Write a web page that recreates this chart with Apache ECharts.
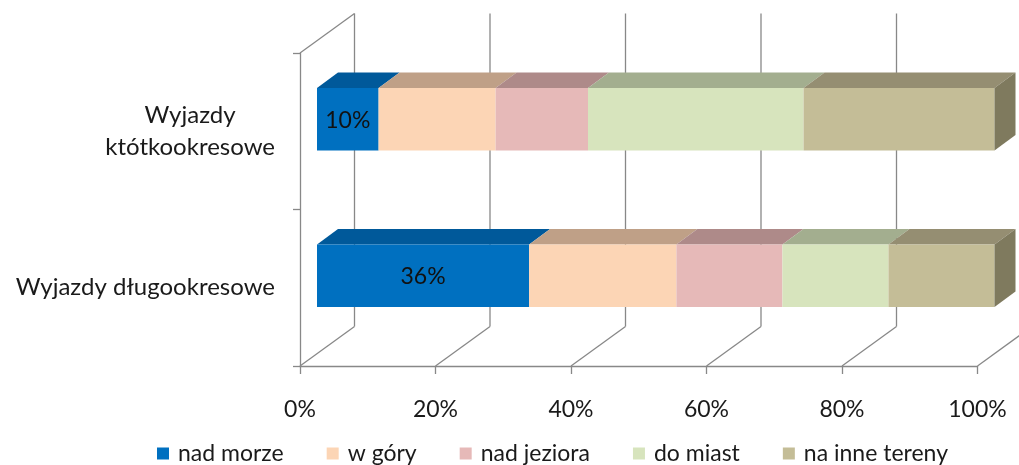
<!DOCTYPE html>
<html>
<head>
<meta charset="utf-8">
<script src="https://cdn.jsdelivr.net/npm/echarts@6/dist/echarts.min.js"></script>
<style>
  html, body { margin: 0; padding: 0; background: #ffffff; }
  #chart { width: 1019px; height: 465px; }
</style>
</head>
<body>
<div id="chart"></div>
<script>
// Trip categories (top to bottom) and destination shares in percent
const categories = ['Wyjazdy\nktótkookresowe', 'Wyjazdy długookresowe'];
const seriesNames = ['nad morze', 'w góry', 'nad jeziora', 'do miast', 'na inne tereny'];
const nadMorze = [10, 36];
const wGory = [19, 25];
const nadJeziora = [15, 18];
const doMiast = [35, 18];
const naInneTereny = [31, 18];
const xTicks = [0, 20, 40, 60, 80, 100];
const tickLabels = ['0%', '20%', '40%', '60%', '80%', '100%'];

// Face colours for each destination: front, top, right side
const faceColors = [
  { front: '#0070C0', top: '#00599A', side: '#004A80' },
  { front: '#FCD5B5', top: '#BFA087', side: '#A98C75' },
  { front: '#E6B9B8', top: '#AE8A89', side: '#977776' },
  { front: '#D7E4BD', top: '#A3AE8F', side: '#8E977C' },
  { front: '#C4BD97', top: '#958E72', side: '#7F7A5E' }
];

const FONT = 'Lato';
const GRID_COLOR = '#888888';
// Perspective offset from the front plane to the back wall
const WALL = { dx: 54.5, dy: -39.5 };
// Bar depth and its position between the front plane and the back wall
const BAR_DEPTH = { dx: 21, dy: -15.5 };
const BAR_SHIFT = { dx: 17, dy: -12 };
const BAR_RATIO = 0.4;

const rows = [nadMorze, wGory, nadJeziora, doMiast, naInneTereny];
const totals = categories.map((_, i) => rows.reduce((s, r) => s + r[i], 0));

// Cumulative 100% stacking: each item holds [start, end, categoryIndex, value]
const stacked = [];
const running = categories.map(() => 0);
rows.forEach((row) => {
  stacked.push(row.map((v, i) => {
    const share = v / totals[i] * 100;
    const item = [running[i], running[i] + share, i, v];
    running[i] += share;
    return item;
  }));
});

function makeBarRenderer(sIdx, showLabel) {
  const c = faceColors[sIdx];
  const isLast = sIdx === rows.length - 1;
  return function (params, api) {
    const start = api.value(0), end = api.value(1), ci = api.value(2);
    const p0 = api.coord([start, ci]);
    const p1 = api.coord([end, ci]);
    const h = api.size([0, 1])[1] * BAR_RATIO;
    const xL = p0[0] + BAR_SHIFT.dx, xR = p1[0] + BAR_SHIFT.dx;
    const yT = p0[1] + BAR_SHIFT.dy - h / 2, yB = yT + h;
    const dx = BAR_DEPTH.dx, dy = BAR_DEPTH.dy;
    const children = [
      { type: 'polygon', shape: { points: [[xL, yT], [xR, yT], [xR + dx, yT + dy], [xL + dx, yT + dy]] },
        style: { fill: c.top } },
      { type: 'rect', shape: { x: xL, y: yT, width: xR - xL, height: h }, style: { fill: c.front } }
    ];
    if (isLast) {
      children.push({ type: 'polygon', shape: { points: [[xR, yT], [xR + dx, yT + dy], [xR + dx, yB + dy], [xR, yB]] },
        style: { fill: c.side } });
    }
    if (showLabel) {
      children.push({ type: 'text', style: {
        text: api.value(3) + '%', x: (xL + xR) / 2, y: (yT + yB) / 2 + 1,
        align: 'center', verticalAlign: 'middle', fill: '#111111',
        font: '23px ' + FONT } });
    }
    return { type: 'group', children: children };
  };
}

// Back wall verticals, floor diagonals and the left wall top edge
function renderWalls(params, api) {
  const cs = params.coordSys;
  const v = api.value(0);
  const px = api.coord([v, 0])[0];
  const top = cs.y, bottom = cs.y + cs.height;
  const ls = { stroke: GRID_COLOR, lineWidth: 1.3, fill: null };
  const children = [
    { type: 'line', shape: { x1: px + WALL.dx, y1: top + WALL.dy, x2: px + WALL.dx, y2: bottom + WALL.dy }, style: ls },
    { type: 'line', shape: { x1: px, y1: bottom, x2: px + WALL.dx, y2: bottom + WALL.dy }, style: ls }
  ];
  if (v === xTicks[0]) {
    children.push({ type: 'line', shape: { x1: px, y1: top, x2: px + WALL.dx, y2: top + WALL.dy }, style: ls });
  }
  return { type: 'group', children: children };
}

// Centre the lines of a wrapped category label inside a right-aligned block
const CAT_SIZE = 24;
const measureCtx = document.createElement('canvas').getContext('2d');
measureCtx.font = CAT_SIZE + 'px ' + FONT;
let wrapWidth = 0;
categories.forEach((c) => {
  const lines = c.split('\n');
  if (lines.length > 1) lines.forEach((l) => { wrapWidth = Math.max(wrapWidth, measureCtx.measureText(l).width); });
});

const series = [{
  type: 'custom',
  name: '_walls',
  silent: true,
  z: 1,
  renderItem: renderWalls,
  encode: { x: 0 },
  data: xTicks.map((v) => [v]),
  animation: false
}];
rows.forEach((row, sIdx) => {
  series.push({
    type: 'custom',
    name: seriesNames[sIdx],
    z: 2 + sIdx,
    itemStyle: { color: faceColors[sIdx].front },
    renderItem: makeBarRenderer(sIdx, sIdx === 0),
    encode: { x: [0, 1], y: 2 },
    data: stacked[sIdx],
    animation: false
  });
});

const chart = echarts.init(document.getElementById('chart'), null, { renderer: 'canvas' });
chart.setOption({
  backgroundColor: '#ffffff',
  animation: false,
  grid: { left: 300, right: 41.5, top: 53, bottom: 99, outerBoundsMode: 'none' },
  xAxis: {
    type: 'value', min: 0, max: 100, interval: 20,
    axisLine: { show: true, lineStyle: { color: GRID_COLOR, width: 1.3 } },
    axisTick: { show: true, length: 8, lineStyle: { color: GRID_COLOR, width: 1.3 } },
    splitLine: { show: false },
    axisLabel: {
      margin: 32, color: '#1a1a1a', fontFamily: FONT, fontSize: 23,
      formatter: (v) => tickLabels[xTicks.indexOf(v)]
    }
  },
  yAxis: {
    type: 'category', data: categories, inverse: true,
    axisLine: { show: true, lineStyle: { color: GRID_COLOR, width: 1.3 } },
    axisTick: { show: true, length: 7, lineStyle: { color: GRID_COLOR, width: 1.3 } },
    splitLine: { show: false },
    axisLabel: {
      margin: 25, color: '#1a1a1a', fontFamily: FONT, fontSize: CAT_SIZE, lineHeight: 32,
      formatter: (v) => {
        const lines = v.split('\n');
        return lines.length > 1 ? lines.map((l) => '{c|' + l + '}').join('\n') : v;
      },
      rich: { c: { width: wrapWidth, align: 'center', fontFamily: FONT, fontSize: CAT_SIZE, lineHeight: 32, color: '#1a1a1a' } }
    }
  },
  legend: {
    data: seriesNames,
    top: 442, left: 157, padding: 0,
    icon: 'rect', itemWidth: 12, itemHeight: 12, itemGap: 43,
    textStyle: { fontFamily: FONT, fontSize: 23, color: '#1a1a1a', padding: [0, 0, 0, 4] }
  },
  series: series
});
</script>
</body>
</html>
